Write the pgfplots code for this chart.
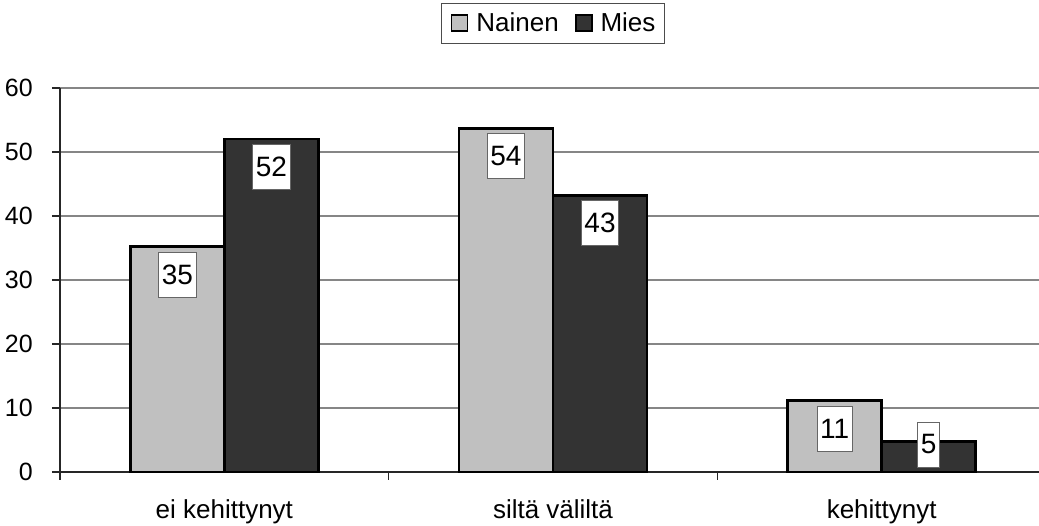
\documentclass[border=0pt]{standalone}
\usepackage{fontspec}
\setmainfont{Liberation Sans}
\usepackage{pgfplots}
\usepackage{pgfplotstable}
\pgfplotsset{compat=1.18}
\definecolor{lightbar}{HTML}{C0C0C0}
\definecolor{darkbar}{HTML}{333333}
\definecolor{gridgray}{HTML}{868686}
\tikzset{lbl/.style={font=\fontsize{28}{32}\selectfont, fill=white, draw=black!60, line width=0.8pt, inner xsep=3pt, inner ysep=0pt, minimum height=45pt, anchor=center}}
\pgfplotsset{sqleg/.style={legend image code/.code={\draw[##1, line width=1.8pt] (0pt,-8pt) rectangle (16pt,8pt);}}}

\pgfplotstableread{
x y
0 35.2
1 53.7
2 11.2
}\nainen
\pgfplotstableread{
x y
0 52.0
1 43.2
2 4.8
}\mies
\pgfplotstableread{
x y label
0 30.86 35
1 49.34 54
2 6.80 11
}\nainenlbl
\pgfplotstableread{
x y label
0 47.73 52
1 38.98 43
2 4.30 5
}\mieslbl

\begin{document}
\begin{tikzpicture}
\path[use as bounding box] (-60pt,-54pt) rectangle (979pt,472pt);
\begin{axis}[
  at={(0pt,0pt)}, anchor=south west,
  scale only axis, width=986pt, height=384pt,
  xmin=-0.5, xmax=2.5, ymin=0, ymax=60,
  axis x line*=bottom, axis y line*=left,
  axis line style={black!85, line width=1.5pt, -},
  tick align=outside,
  major tick length=8pt,
  tick style={black!85, line width=1.5pt},
  xtick={-0.5,0.5,1.5,2.5}, xticklabels={},
  extra x ticks={0,1,2},
  extra x tick labels={ei kehittynyt, siltä väliltä, kehittynyt},
  extra x tick style={major tick length=0pt, tick style={draw=none}},
  xticklabel style={font=\fontsize{26}{30}\selectfont, inner sep=0pt, anchor=north, yshift=-27pt},
  ytick={0,10,20,30,40,50,60},
  /pgf/number format/assume math mode=true,
  yticklabel style={font=\fontsize{25}{28}\selectfont, inner sep=0pt, anchor=east, xshift=-19pt},
  ymajorgrids, grid style={gridgray, line width=1.5pt},
  legend style={at={(0.5,1)}, anchor=south, yshift=44pt, draw=black!70, line width=1pt,
    font=\fontsize{26}{30}\selectfont, inner xsep=9pt, inner ysep=10pt,
    nodes={inner xsep=0pt, inner ysep=0pt},
    /tikz/every odd column/.append style={column sep=8pt},
    /tikz/every even column/.append style={column sep=16pt}},
  legend columns=2,
  clip=false,
]
\addplot[ybar, bar width=94pt, bar shift=-47pt, fill=lightbar, draw=black, line width=2.5pt, sqleg] table[x=x,y=y] {\nainen};
\addlegendentry{Nainen}
\addplot[ybar, bar width=94pt, bar shift=47pt, fill=darkbar, draw=black, line width=2.5pt, sqleg] table[x=x,y=y] {\mies};
\addlegendentry{Mies}
\addplot[forget plot, only marks, mark=*, mark size=0.01pt, mark options={draw=none, fill=none},
  point meta=explicit symbolic, nodes near coords, nodes near coords style={lbl, xshift=-47pt}]
  table[x=x, y=y, meta=label] {\nainenlbl};
\addplot[forget plot, only marks, mark=*, mark size=0.01pt, mark options={draw=none, fill=none},
  point meta=explicit symbolic, nodes near coords, nodes near coords style={lbl, xshift=47pt}]
  table[x=x, y=y, meta=label] {\mieslbl};
\end{axis}
\end{tikzpicture}
\end{document}
